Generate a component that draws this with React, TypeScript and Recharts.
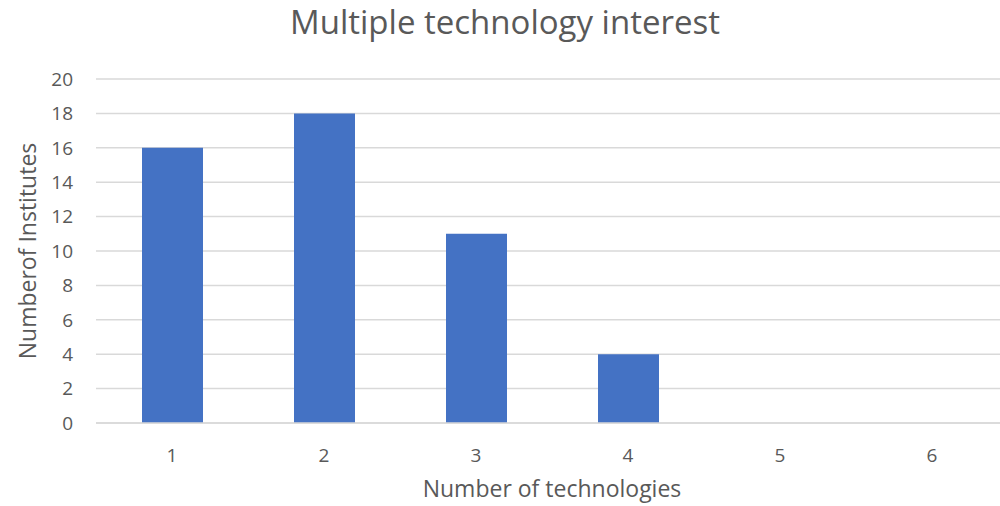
import React from "react"
import { BarChart, Bar, XAxis, YAxis, CartesianGrid } from "recharts"

const categories = ["1", "2", "3", "4", "5", "6"]
const institutes = [16, 18, 11, 4, 0, 0]
const yTicks = [0, 2, 4, 6, 8, 10, 12, 14, 16, 18, 20]

const FONT = "'Open Sans', sans-serif"
const TEXT = "#595959"

const data = categories.map((c, i) => ({ tech: c, institutes: institutes[i] }))

export default function App() {
  return (
    <div style={{ position: "fixed", left: 0, top: 0, width: 1000, height: 506, overflow: "hidden", background: "#fff", fontFamily: FONT }}>
      <div style={{ position: "absolute", left: 0, width: 1010, top: -1, textAlign: "center", fontSize: 33, color: TEXT }}>
        Multiple technology interest
      </div>
      <BarChart
        width={1016}
        height={506}
        data={data}
        margin={{ top: 79, right: 8, bottom: 0, left: 0 }}
      >
        <CartesianGrid vertical={false} stroke="#d9d9d9" strokeWidth={1.5} />
        <XAxis
          dataKey="tech"
          tickLine={false}
          axisLine={{ stroke: "#d9d9d9", strokeWidth: 1.5 }}
          tick={{ fill: TEXT, fontSize: 19, fontFamily: FONT, dy: 18 }}
          height={83}
          label={{ value: "Number of technologies", position: "insideBottom", offset: 9, fill: TEXT, fontSize: 23, fontFamily: FONT }}
        />
        <YAxis
          domain={[0, 20]}
          ticks={yTicks}
          interval={0}
          width={96}
          tickLine={false}
          axisLine={false}
          tick={{ fill: TEXT, fontSize: 19, fontFamily: FONT, dx: -15 }}
          label={{ value: "Numberof Institutes", angle: -90, position: "center", dx: -20, fill: TEXT, fontSize: 23, fontFamily: FONT }}
        />
        <Bar dataKey="institutes" fill="#4472c4" barSize={61} isAnimationActive={false} />
      </BarChart>
    </div>
  )
}
